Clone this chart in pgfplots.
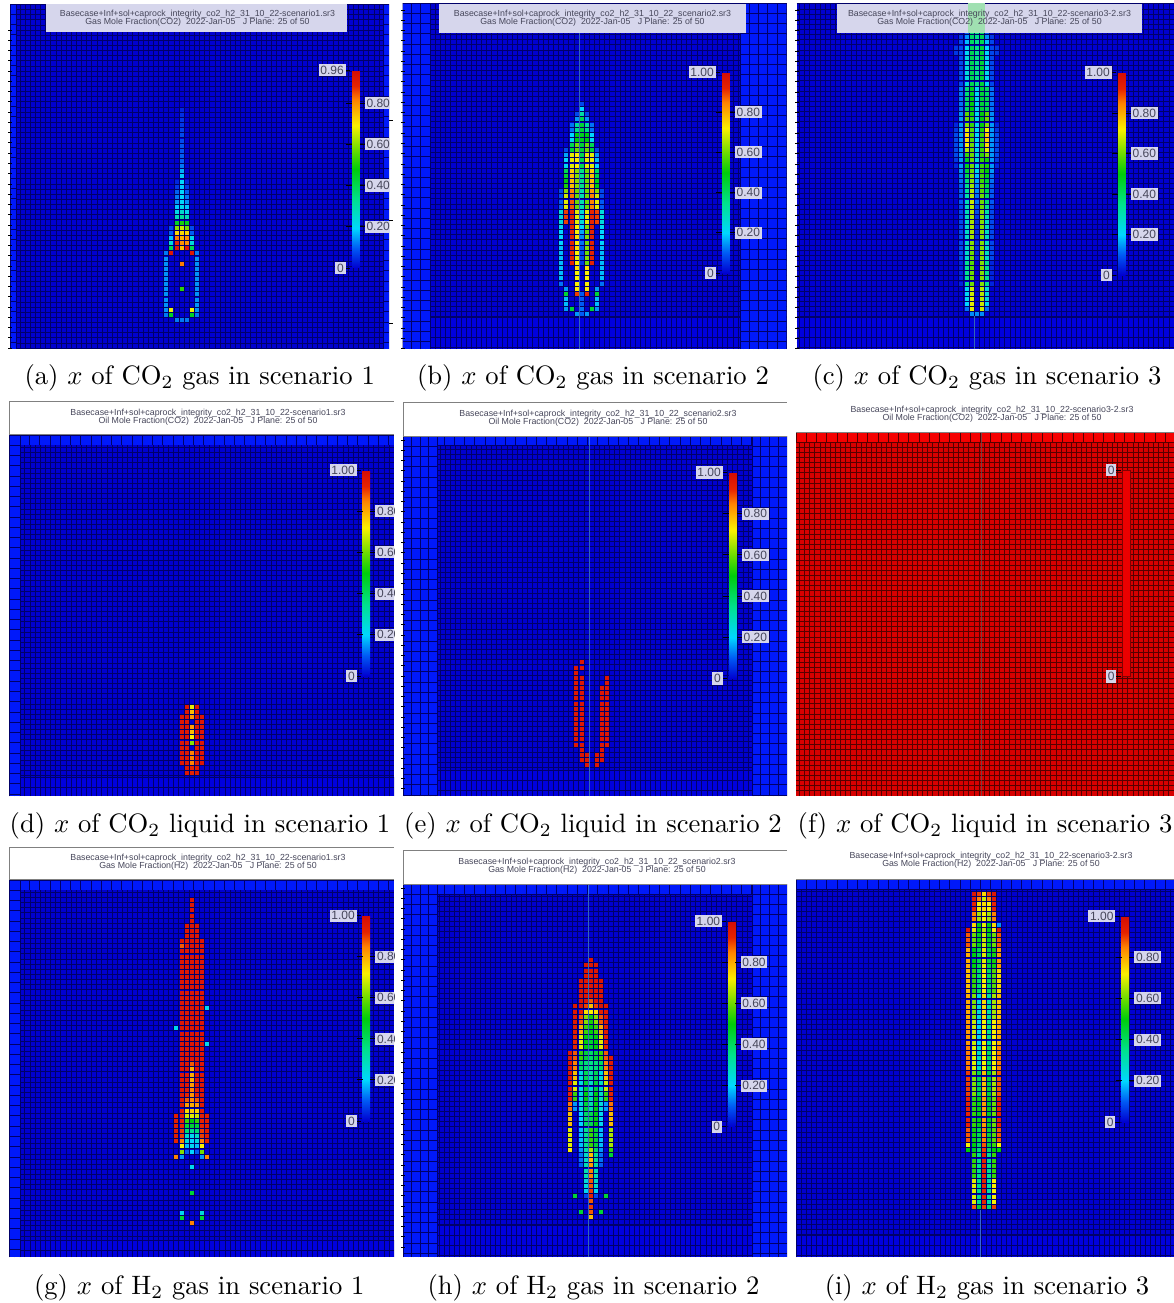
\documentclass[border=0pt]{standalone}
\usepackage{pgfplots}
\usepackage{pgfplotstable}
\usepackage{fontspec}
\pgfplotsset{compat=1.18}
\newfontfamily\simfont{Liberation Sans}
\definecolor{cellblue}{RGB}{0,0,208}
\definecolor{gridblue}{RGB}{0,0,105}
\definecolor{bandblue}{RGB}{0,25,250}
\definecolor{bandmid}{RGB}{0,0,222}
\definecolor{cellred}{RGB}{215,0,0}
\definecolor{gridred}{RGB}{85,0,0}
\definecolor{bandred}{RGB}{245,0,0}
\definecolor{lav}{RGB}{214,214,236}
\definecolor{labtxt}{RGB}{70,70,90}
\definecolor{midline}{RGB}{90,170,230}
\pgfplotsset{colormap={sim}{rgb255(0pt)=(0,0,208) rgb255(10pt)=(0,90,245) rgb255(20pt)=(0,215,255) rgb255(35pt)=(0,225,140) rgb255(50pt)=(0,205,10) rgb255(60pt)=(110,220,0) rgb255(72pt)=(250,240,0) rgb255(85pt)=(255,130,0) rgb255(92pt)=(230,35,0) rgb255(100pt)=(212,12,5)}}

\pgfplotstableread{
j m3 m2 m1 z p1 p2 p3
0 0 0 12 12 12 0 0
1 12 45 0 0 0 45 12
2 14 68 0 0 0 68 14
3 14 0 0 0 0 0 14
4 14 0 0 0 0 0 14
5 14 0 0 0 0 0 14
6 14 0 0 52 0 0 14
7 14 0 0 0 0 0 14
8 14 0 0 0 0 0 14
9 14 0 0 0 0 0 14
10 14 0 0 0 0 0 14
11 14 0 0 82 0 0 14
12 14 0 0 0 0 0 14
13 12 92 0 0 0 92 12
14 0 40 92 75 92 40 0
15 0 24 88 80 80 24 0
16 0 18 82 76 80 22 0
17 0 10 72 72 72 10 0
18 0 8 60 65 58 8 0
19 0 0 45 50 46 0 0
20 0 0 28 32 28 0 0
21 0 0 22 26 22 0 0
22 0 0 18 22 18 0 0
23 0 0 14 20 14 0 0
24 0 0 12 20 12 0 0
25 0 0 10 20 10 0 0
26 0 0 6 18 6 0 0
27 0 0 4 20 4 0 0
28 0 0 0 18 0 0 0
29 0 0 0 16 0 0 0
30 0 0 0 12 0 0 0
31 0 0 0 10 0 0 0
32 0 0 0 10 0 0 0
33 0 0 0 9 0 0 0
34 0 0 0 9 0 0 0
35 0 0 0 8 0 0 0
36 0 0 0 8 0 0 0
37 0 0 0 7 0 0 0
38 0 0 0 6 0 0 0
39 0 0 0 6 0 0 0
40 0 0 0 5 0 0 0
41 0 0 0 4 0 0 0
}\Ta
\pgfplotstableread{
j m4 m3 m2 m1 z p1 p2 p3 p4
0 0 0 0 15 10 15 0 0 0
1 0 15 45 0 12 0 45 15 0
2 0 18 0 0 10 0 0 18 0
3 0 18 0 0 10 0 0 18 0
4 0 45 0 90 10 92 0 45 0
5 0 15 0 72 0 72 0 15 0
6 12 0 0 72 0 72 0 0 12
7 18 0 0 72 0 72 0 0 18
8 18 0 0 72 0 72 0 0 18
9 18 0 0 74 0 74 0 0 18
10 18 0 92 72 6 60 92 0 18
11 18 0 92 70 8 62 92 0 18
12 18 0 92 72 8 60 92 0 18
13 18 0 92 74 10 62 92 0 18
14 20 0 92 72 12 60 92 0 20
15 20 0 92 74 14 62 92 0 20
16 20 0 92 72 16 60 92 0 20
17 22 0 92 72 20 62 92 0 22
18 25 90 92 70 25 70 92 90 25
19 25 90 92 70 25 70 92 90 25
20 25 90 92 70 25 70 92 90 25
21 10 70 88 60 30 60 85 70 10
22 10 70 88 60 30 60 85 70 10
23 8 68 86 60 30 60 85 68 8
24 8 62 84 60 30 60 82 62 8
25 0 52 78 62 35 60 78 50 0
26 0 50 78 62 35 60 78 48 0
27 0 46 78 62 35 60 78 44 0
28 0 42 76 62 35 60 76 40 0
29 0 22 70 72 42 70 70 20 0
30 0 20 70 72 42 70 70 18 0
31 0 16 70 72 42 70 70 15 0
32 0 8 45 60 45 60 45 8 0
33 0 0 42 60 45 60 42 0 0
34 0 0 22 50 48 50 22 0 0
35 0 0 20 50 48 50 20 0 0
36 0 0 12 36 45 36 12 0 0
37 0 0 12 34 45 34 12 0 0
38 0 0 0 15 42 15 0 0 0
39 0 0 0 8 32 8 0 0 0
40 0 0 0 0 20 0 0 0 0
41 0 0 0 0 8 0 0 0 0
}\Tb
\pgfplotstableread{
j m4 m3 m2 m1 z p1 p2 p3 p4
0 0 0 0 14 14 14 0 0 0
1 0 0 12 70 0 68 12 0 0
2 0 0 20 70 0 68 22 0 0
3 0 0 22 70 0 66 25 0 0
4 0 0 22 68 0 66 25 0 0
5 0 0 22 68 0 66 25 0 0
6 0 4 35 60 0 62 35 4 0
7 0 4 35 60 0 62 35 4 0
8 0 4 35 60 0 62 35 4 0
9 0 4 35 58 0 62 35 4 0
10 0 4 35 58 0 62 35 4 0
11 0 8 28 60 4 62 28 8 0
12 0 8 28 60 4 62 28 8 0
13 0 8 28 62 5 62 28 8 0
14 0 8 28 62 5 62 28 8 0
15 0 8 28 64 5 62 28 8 0
16 0 8 28 65 5 62 28 8 0
17 0 8 28 65 5 62 28 8 0
18 0 8 28 65 5 62 28 8 0
19 0 8 30 65 6 62 30 8 0
20 0 8 30 66 8 62 32 8 0
21 0 8 30 66 8 60 34 8 0
22 0 10 30 68 12 60 38 10 0
23 0 10 32 66 12 60 40 10 0
24 0 10 34 66 14 58 42 10 0
25 0 10 36 64 14 58 44 10 0
26 0 12 38 62 16 56 45 12 0
27 0 12 42 62 18 56 48 12 0
28 0 14 45 60 22 55 50 15 0
29 4 15 48 60 25 55 52 15 4
30 6 15 48 60 25 55 52 15 6
31 8 15 55 60 25 55 62 15 8
32 8 15 66 60 22 55 70 15 8
33 8 15 72 60 20 55 75 15 8
34 8 15 74 58 20 55 76 15 8
35 8 15 74 58 20 55 76 15 8
36 6 15 70 58 20 52 72 15 6
37 4 15 62 55 22 50 62 15 4
38 0 15 60 55 22 50 60 15 0
39 0 14 58 52 22 50 58 14 0
40 0 12 40 50 22 45 42 12 0
41 0 12 40 50 22 45 42 12 0
42 0 12 40 50 22 45 42 12 0
43 0 12 38 48 22 45 40 12 0
44 0 12 38 48 22 45 40 12 0
45 0 8 25 42 35 45 22 8 0
46 0 8 25 42 35 45 22 8 0
47 0 8 25 42 35 45 22 8 0
48 0 8 25 42 35 45 22 8 0
49 0 8 25 42 35 45 22 8 0
50 0 8 25 42 35 45 22 8 0
51 6 8 22 42 35 45 20 8 6
52 6 8 22 42 35 45 20 8 6
53 0 8 18 40 35 42 18 8 0
54 0 6 15 40 35 42 15 6 0
55 0 0 10 38 35 40 10 0 0
}\Tc
\pgfplotstableread{
j m2 m1 z p1 p2
0 0 96 92 96 0
1 0 96 92 96 0
2 96 96 85 96 96
3 96 96 85 96 96
4 96 96 85 96 96
5 96 96 0 96 96
6 96 96 62 96 96
7 96 96 72 96 96
8 96 96 78 96 96
9 96 96 82 96 96
10 96 96 0 96 96
11 96 96 82 96 96
12 0 96 78 96 0
13 0 96 70 96 0
}\Td
\pgfplotstableread{
j m3 m2 m1 z p1 p2 p3
0 0 0 96 0 96 0 0
1 0 96 96 0 96 96 0
2 0 96 96 0 96 96 0
3 0 96 0 0 0 96 0
4 96 96 0 0 0 96 96
5 96 96 0 0 0 96 96
6 96 96 0 0 0 96 96
7 96 96 0 0 0 96 96
8 96 96 0 0 0 96 96
9 96 96 0 0 0 96 96
10 96 96 0 0 0 96 96
11 96 96 0 0 0 96 96
12 96 96 0 0 0 96 96
13 96 96 0 0 0 96 96
14 96 96 0 0 0 96 96
15 96 96 0 0 0 96 96
16 96 96 0 0 0 0 96
17 96 96 0 0 0 0 96
18 96 0 0 0 0 0 0
19 96 96 0 0 0 0 0
20 0 96 0 0 0 0 0
}\Te
\pgfplotstableread{
j m3 m2 m1 z p1 p2 p3
0 0 0 0 85 0 0 0
1 0 45 0 0 0 45 0
2 0 22 0 0 0 25 0
6 0 0 0 45 0 0 0
11 0 0 0 22 0 0 0
13 85 15 0 0 0 15 85
14 0 62 10 20 10 60 0
15 0 72 18 22 18 72 0
16 92 85 25 20 25 85 92
17 94 90 28 22 28 90 94
18 94 90 38 35 38 90 94
19 94 92 45 45 45 92 94
20 94 92 55 50 55 92 94
21 94 93 68 70 68 93 94
22 0 94 75 76 75 94 0
23 0 95 82 80 82 95 0
24 0 95 88 84 88 95 0
25 0 95 92 83 92 95 0
26 0 96 94 85 94 96 0
27 0 96 96 82 96 96 0
28 0 96 96 80 96 96 0
29 0 96 96 80 96 96 0
30 0 96 96 80 96 96 0
31 0 96 96 88 96 96 0
32 0 96 96 96 96 96 0
33 0 96 96 96 96 96 0
34 0 96 96 96 96 96 0
35 0 96 96 96 96 96 22
36 0 96 96 96 96 96 0
37 0 96 96 96 96 96 0
38 22 96 96 96 96 96 0
39 0 96 96 96 96 96 0
40 0 96 96 96 96 96 0
41 0 96 96 96 96 96 0
42 0 96 96 96 96 96 22
43 0 96 96 96 96 96 0
44 0 96 96 96 96 96 0
45 0 96 96 96 96 96 0
46 0 96 96 96 96 96 0
47 0 96 96 96 96 96 0
48 0 96 96 96 96 96 0
49 0 96 96 96 96 96 0
50 0 96 96 96 96 96 0
51 0 96 96 96 96 96 0
52 0 96 96 96 96 96 0
53 0 96 96 96 96 96 0
54 0 88 96 96 96 96 0
55 0 96 96 96 96 96 0
56 0 0 96 96 96 0 0
57 0 0 96 96 96 0 0
58 0 0 96 96 96 0 0
59 0 0 0 96 0 0 0
60 0 0 0 96 0 0 0
61 0 0 0 96 0 0 0
62 0 0 0 96 0 0 0
63 0 0 0 96 0 0 0
}\Tg
\pgfplotstableread{
j m4 m3 m2 m1 z p1 p2 p3 p4
0 0 0 0 0 78 0 0 0 0
1 0 0 45 0 88 0 45 0 0
2 0 0 0 0 90 0 0 0 0
3 0 0 0 0 88 0 0 0 0
4 0 45 0 8 92 8 0 45 0
5 0 0 0 22 90 22 0 0 0
6 0 0 0 25 88 28 0 0 0
7 0 0 0 25 88 28 0 0 0
8 0 0 0 30 85 30 0 0 0
9 0 0 0 30 85 30 0 0 0
10 0 0 10 30 82 32 10 0 0
11 0 0 12 28 78 35 12 0 0
12 0 0 12 28 78 35 12 0 45
13 72 0 15 32 65 40 15 0 55
14 70 0 18 35 55 45 18 0 65
15 70 0 18 35 55 45 18 0 65
16 70 0 18 35 55 45 18 0 65
17 70 0 18 35 55 45 18 0 65
18 78 0 20 40 42 50 22 0 78
19 78 0 20 40 42 50 22 0 78
20 78 0 20 40 42 50 22 0 78
21 86 15 25 45 32 50 25 15 86
22 86 15 25 45 32 50 25 15 86
23 92 55 25 50 30 50 28 55 92
24 92 55 25 50 30 50 28 55 92
25 94 70 24 45 28 45 28 68 94
26 94 70 24 45 28 45 28 68 94
27 95 78 25 42 32 42 25 78 95
28 95 78 25 42 32 42 25 78 95
29 95 85 40 38 36 38 40 85 95
30 95 85 40 38 36 38 40 85 95
31 95 88 55 45 40 45 55 88 95
32 95 88 55 45 40 45 55 88 0
33 0 92 70 50 46 50 70 92 0
34 0 92 70 50 46 50 70 92 0
35 0 92 70 50 46 50 70 92 0
36 0 94 80 55 50 55 80 94 0
37 0 94 80 55 50 55 80 94 0
38 0 95 88 62 52 62 88 95 0
39 0 95 88 62 52 62 88 95 0
40 0 96 93 74 72 74 93 96 0
41 0 96 96 90 78 90 96 96 0
42 0 0 96 96 88 96 96 0 0
43 0 0 96 96 96 96 96 0 0
44 0 0 96 96 96 96 96 0 0
45 0 0 96 96 96 96 96 0 0
46 0 0 96 96 96 96 96 0 0
47 0 0 0 96 96 96 0 0 0
48 0 0 0 96 96 96 0 0 0
49 0 0 0 96 96 96 0 0 0
50 0 0 0 0 96 0 0 0 0
}\Th
\pgfplotstableread{
j m3 m2 m1 z p1 p2 p3
0 0 88 45 90 38 90 0
1 0 70 35 92 32 72 0
2 0 70 35 92 32 72 0
3 0 70 35 92 32 72 0
4 0 70 35 92 32 72 0
5 0 70 35 92 32 72 0
6 0 55 35 92 35 55 0
7 0 55 35 92 35 55 0
8 0 55 35 92 35 55 0
9 0 55 35 92 35 55 0
10 0 55 35 92 35 55 0
11 50 48 38 90 40 50 50
12 72 50 40 88 45 55 72
13 88 52 42 85 45 58 88
14 88 52 42 85 45 58 88
15 88 52 42 85 45 58 88
16 92 55 48 82 48 60 92
17 92 55 48 82 48 60 92
18 92 55 48 82 48 60 92
19 92 55 48 82 48 60 92
20 92 55 48 82 48 60 92
21 92 55 48 82 48 60 92
22 90 62 42 78 45 65 88
23 90 62 42 78 45 65 88
24 90 62 42 78 45 65 88
25 90 62 42 78 45 65 88
26 90 62 42 78 45 65 88
27 85 70 28 72 40 72 85
28 85 70 28 72 40 72 85
29 85 70 28 72 40 72 85
30 85 70 28 72 40 72 85
31 85 70 28 72 40 72 85
32 82 68 22 72 35 72 80
33 82 68 22 72 35 72 80
34 82 68 22 72 35 72 80
35 82 68 22 72 35 72 80
36 82 68 22 72 35 72 80
37 80 62 25 75 32 65 78
38 80 62 25 75 32 65 78
39 80 62 25 75 32 65 78
40 80 62 25 75 32 65 78
41 80 62 25 75 32 65 78
42 78 55 38 72 40 58 75
43 78 55 38 72 40 58 75
44 78 55 38 72 40 58 75
45 78 55 38 72 40 58 75
46 78 55 38 72 40 58 75
47 80 50 42 70 44 52 82
48 80 50 42 70 44 52 82
49 80 50 42 70 44 52 82
50 80 50 42 70 44 52 82
51 88 60 48 68 48 60 88
52 88 60 48 68 48 60 88
53 88 60 48 68 48 60 88
54 95 70 50 66 50 72 95
55 0 75 50 70 50 75 15
56 0 85 65 72 65 85 0
57 0 85 65 72 65 85 0
58 0 92 72 75 72 92 0
59 0 92 72 75 72 92 0
60 0 95 85 68 85 95 0
61 0 96 90 75 90 96 0
}\Ti

\def\PP{5.13}
\newcommand\setpanel[6]{%
 \pgfmathsetmacro\Xa{(#1-#5)/\PP}\pgfmathsetmacro\Xb{(#3-#5)/\PP}%
 \pgfmathsetmacro\Ya{(#6-#4)/\PP}\pgfmathsetmacro\Yb{(#6-#2)/\PP}%
 \pgfmathsetmacro\Wd{(#3-#1)*0.5}\pgfmathsetmacro\Ht{(#4-#2)*0.5}%
 \pgfmathsetmacro\Ax{#1*0.5}\pgfmathsetmacro\Ay{-#2*0.5}%
 \def\Xz{#1}\def\Yz{#2}\def\XC{#5}\def\YJ{#6}%
 % grid lines fall on whole picture pixels, so that they all look alike
 \gdef\XT{-1000}\gdef\YT{-1000}%
 \foreach \k in {-50,...,50}{\pgfmathsetmacro\v{(floor(#5+(\k+0.5)*\PP)+0.5-#5)/\PP}\xdef\XT{\XT,\v}}%
 \foreach \k in {-20,...,95}{\pgfmathsetmacro\v{(#6-floor(#6-(\k+0.5)*\PP)-0.5)/\PP}\xdef\YT{\YT,\v}}%
}
\pgfplotsset{
 std/.style={at={(\Ax pt,\Ay pt)},anchor=north west,scale only axis,width=\Wd pt,height=\Ht pt,
  xmin=\Xa,xmax=\Xb,ymin=\Ya,ymax=\Yb,
  xtick=\XT,ytick=\YT,
  xticklabel=\empty,yticklabel=\empty,tick style={draw=none},
  grid=major,major grid style={draw=gridblue,line width=0.5pt},
  axis line style={draw=none},
  axis background/.style={fill=cellblue},
  colormap name=sim,point meta min=0,point meta max=1},
 cell/.style={scatter,only marks,scatter src=explicit,mark=square*,mark size=1pt,
  scatter/use mapped color={draw opacity=0,fill=mapped color},forget plot}
}
\newcommand\cells[3]{\pgfplotsinvokeforeach{1,...,#2}{\addplot[cell] table[
  x expr={(0.5*(floor(\XC+(##1-#3-0.5)*\PP)+floor(\XC+(##1-#3+0.5)*\PP))+0.5-\XC)/\PP},
  y expr={(\YJ-0.5*(floor(\YJ-(\thisrowno{0}-0.5)*\PP)+floor(\YJ-(\thisrowno{0}+0.5)*\PP))-0.5)/\PP},
  meta expr=\thisrowno{##1}/100]{#1};}}
% band of coarser cells, given in picture pixels: xa xb ya yb stepx stepy fill gridcolour
\newcommand\band[8]{\pgfplotsextra{%
 \pgfmathsetmacro\ba{(#1-\XC)/\PP}\pgfmathsetmacro\bb{(#2-\XC)/\PP}%
 \pgfmathsetmacro\bc{(\YJ-#4)/\PP}\pgfmathsetmacro\bd{(\YJ-#3)/\PP}%
 \fill[#7] (axis cs:\ba,\bc) rectangle (axis cs:\bb,\bd);
 \pgfmathtruncatemacro\nx{(#2-#1)/#5}\pgfmathtruncatemacro\ny{(#4-#3)/#6}%
 \foreach \k in {0,...,\nx}{\pgfmathsetmacro\v{(floor(#1+\k*#5)+0.5-\XC)/\PP}\draw[#8,line width=0.5pt] (axis cs:\v,\bc)--(axis cs:\v,\bd);}
 \foreach \k in {0,...,\ny}{\pgfmathsetmacro\v{(\YJ-floor(#3+\k*#6)-0.5)/\PP}\draw[#8,line width=0.5pt] (axis cs:\ba,\v)--(axis cs:\bb,\v);}
}}
% strip along the bottom: fine columns (the panel's own grid lines), rows twice as tall
\newcommand\bandm[4]{\pgfplotsextra{%
 \pgfmathsetmacro\ba{(#1-\XC)/\PP}\pgfmathsetmacro\bb{(#2-\XC)/\PP}%
 \pgfmathsetmacro\bc{(\YJ-#4)/\PP}\pgfmathsetmacro\bd{(\YJ-#3)/\PP}%
 \fill[bandmid] (axis cs:\ba,\bc) rectangle (axis cs:\bb,\bd);
 \pgfmathtruncatemacro\ny{(#4-#3)/10.26}%
 \foreach \v in \XT {\draw[gridblue,line width=0.5pt] (axis cs:\v,\bc)--(axis cs:\v,\bd);}
 \foreach \k in {0,...,\ny}{\pgfmathsetmacro\v{(\YJ-floor(#3+\k*10.26)-0.5)/\PP}\draw[gridblue,line width=0.5pt] (axis cs:\ba,\v)--(axis cs:\bb,\v);}
}}
% colour bar: px left, top, right, bottom (relative to the panel set last); 8.5pt undoes the colorbar's default shift
\newcommand\setcb[4]{%
 \pgfmathsetmacro\Cx{(#1-\Xz)*0.5-8.5359}\pgfmathsetmacro\Cy{-(#2-\Yz)*0.5}%
 \pgfmathsetmacro\Cw{(#3-#1)*0.5}\pgfmathsetmacro\Ch{(#4-#2)*0.5}%
 \pgfplotsset{cb/.style={colorbar,colorbar style={at={(parent axis.north west)},anchor=north west,
  xshift=\Cx pt,yshift=\Cy pt,width=\Cw pt,height=\Ch pt,
  ytick={0.2,0.4,0.6,0.8},yticklabels={0.20,0.40,0.60,0.80},
  tick align=outside,major tick length=3pt,tick style={draw=black,line width=0.5pt},
  axis line style={draw=none},
  yticklabel style={font=\simfont\fontsize{6}{6}\selectfont,text=labtxt,fill=lav,inner sep=0.9pt,xshift=-0.6pt}}}}}
\tikzset{hd/.style={font=\simfont\fontsize{4.4}{4.2}\selectfont,text=labtxt,align=center,inner sep=0pt},
 lab/.style={font=\simfont\fontsize{6}{6}\selectfont,text=labtxt,fill=lav,inner sep=0.9pt,anchor=east},
 capt/.style={scale=1.33,inner sep=0pt},
 mid/.style={midline,line width=0.5pt,opacity=0.6}}
\newcommand\leftlab[3]{\draw[black,line width=0.5pt] (#1-5,#2)--(#1,#2);\node[lab] at (#1-4,#2) {#3};}
\newcommand\edgeticks[3]{\foreach \k in {0,...,40}{\pgfmathsetmacro\v{#2+\k*10.26}\ifdim\v pt<#3pt\relax\draw[black,line width=0.4pt] (#1-2,\v)--(#1+1.5,\v);\fi}}

\begin{document}
\begin{tikzpicture}[x=0.5pt,y=-0.5pt]
\useasboundingbox (0,0) rectangle (1174,1303);
% (a)
\begin{scope}
\clip (10,4) rectangle (389,349);
\setpanel{10}{4}{389}{349}{181.7}{320}
\setcb{352}{70}{359.5}{268}
\begin{axis}[std,cb,point meta max=0.96]
\band{10}{16}{4}{349}{6}{10.26}{bandblue}{gridblue}
\band{383}{389}{4}{349}{6}{10.26}{bandblue}{gridblue}
\cells{\Ta}{7}{4}
\end{axis}
\fill[lav] (46,4) rectangle (347,32);
\node[hd] at (197.5,18) {Basecase+Inf+sol+caprock\_integrity\_co2\_h2\_31\_10\_22-scenario1.sr3\\Gas Mole Fraction(CO2) \ 2022-Jan-05 \ \ J Plane: 25 of 50};
\leftlab{350}{70}{0.96}
\leftlab{350}{268}{0}
\end{scope}
% (b)
\begin{scope}
\clip (402.7,3) rectangle (786.7,349);
\setpanel{402.7}{3}{786.7}{349}{581.7}{314.3}
\setcb{722.3}{72}{729.7}{273}
\begin{axis}[std,cb]
\bandm{402.7}{786.7}{317}{349}
\band{402.7}{430}{3}{349}{9.1}{10.26}{bandblue}{gridblue}
\band{740}{786.7}{3}{349}{9.3}{10.26}{bandblue}{gridblue}
\cells{\Tb}{9}{5}
\end{axis}
\draw[mid] (579,33)--(579,349);
\fill[lav] (439,4) rectangle (746,33);
\node[hd] at (592.5,18) {Basecase+Inf+sol+caprock\_integrity\_co2\_h2\_31\_10\_22\_scenario2.sr3\\Gas Mole Fraction(CO2) \ 2022-Jan-05 \ \ J Plane: 25 of 50};
\leftlab{720}{72}{1.00}
\leftlab{720}{273}{0}
\end{scope}
% (c)
\begin{scope}
\clip (796.7,3) rectangle (1174,349);
\setpanel{796.7}{3}{1174}{349}{976.7}{314.3}
\setcb{1118}{72.5}{1125.7}{275}
\begin{axis}[std,cb]
\bandm{796.7}{1174}{317}{349}
\cells{\Tc}{9}{5}
\end{axis}
\draw[mid] (974,316)--(974,349);
\fill[lav] (837,4) rectangle (1142,33);
\fill[green!25!lav] (968,3) rectangle (985,33);
\node[hd] at (989.5,18) {Basecase+Inf+sol+caprock\_integrity\_co2\_h2\_31\_10\_22-scenario3-2.sr3\\Gas Mole Fraction(CO2) \ 2022-Jan-05 \ \ J Plane: 25 of 50};
\leftlab{1116}{72.5}{1.00}
\leftlab{1116}{275}{0}
\end{scope}
% (d)
\begin{scope}
\clip (9,401) rectangle (394,796);
\setpanel{9}{401}{394}{796}{191.7}{773.3}
\setcb{362.7}{470}{370}{676}
\begin{axis}[std,cb]
\bandm{9}{394}{777}{796}
\band{9}{394}{435}{445}{10.26}{10.26}{bandblue}{gridblue}
\band{9}{20}{435}{796}{11}{10.26}{bandblue}{gridblue}
\cells{\Td}{5}{3}
\end{axis}
\fill[white] (9,401) rectangle (394,434.5);
\draw[gray,line width=0.4pt] (9,434.5)--(9,401.5)--(394,401.5);
\draw[gray,line width=0.4pt] (9,434.5)--(394,434.5);
\node[hd] at (208,417) {Basecase+Inf+sol+caprock\_integrity\_co2\_h2\_31\_10\_22-scenario1.sr3\\Oil Mole Fraction(CO2) \ 2022-Jan-05 \ \ J Plane: 25 of 50};
\leftlab{361}{470}{1.00}
\leftlab{361}{676}{0}
\end{scope}
% (e)
\begin{scope}
\clip (403,402) rectangle (787,796);
\setpanel{403}{402}{787}{796}{591.7}{765}
\setcb{729}{472.5}{736.7}{678.5}
\begin{axis}[std,cb]
\bandm{403}{787}{770}{796}
\band{403}{787}{436}{445}{10.26}{9}{bandblue}{gridblue}
\band{403}{437}{436}{796}{8.5}{10.26}{bandblue}{gridblue}
\band{752}{787}{436}{796}{8.75}{10.26}{bandblue}{gridblue}
\cells{\Te}{7}{4}
\end{axis}
\draw[mid] (589,436)--(589,796);
\fill[white] (403,402) rectangle (787,436);
\draw[gray,line width=0.4pt] (403,436)--(403,402.5)--(787,402.5);
\draw[gray,line width=0.4pt] (403,436)--(787,436);
\node[hd] at (598,418) {Basecase+Inf+sol+caprock\_integrity\_co2\_h2\_31\_10\_22\_scenario2.sr3\\Oil Mole Fraction(CO2) \ 2022-Jan-05 \ \ J Plane: 25 of 50};
\leftlab{727}{472.5}{1.00}
\leftlab{727}{678.5}{0}
\end{scope}
% (f)
\begin{scope}
\clip (796,400) rectangle (1174,796);
\setpanel{796}{400}{1174}{796}{981.7}{773}
\begin{axis}[std,major grid style={draw=gridred,line width=0.5pt},axis background/.style={fill=cellred}]
\addplot[draw=none,forget plot] coordinates {(0,0)};
\band{796}{1174}{432}{442}{10.26}{10}{bandred}{gridred}
\end{axis}
\draw[gray!70!black,line width=0.4pt,opacity=0.7] (981.7,432)--(981.7,796);
\fill[white] (796,400) rectangle (1174,432);
\draw[gray,line width=0.4pt] (796,432)--(1174,432);
\node[hd] at (992,414) {Basecase+Inf+sol+caprock\_integrity\_co2\_h2\_31\_10\_22-scenario3-2.sr3\\Oil Mole Fraction(CO2) \ 2022-Jan-05 \ \ J Plane: 25 of 50};
\fill[red!92!black,draw=red!50!black,line width=0.3pt] (1122.7,470) rectangle (1130,676.5);
\leftlab{1120.7}{470}{0}
\leftlab{1120.7}{676.5}{0}
\end{scope}
% (g)
\begin{scope}
\clip (9,847) rectangle (394,1257);
\setpanel{9}{847}{394}{1257}{191.7}{1223.3}
\setcb{362.7}{915.7}{370}{1121}
\begin{axis}[std,cb]
\bandm{9}{394}{1240}{1257}
\band{9}{394}{880}{890}{10.26}{10.26}{bandblue}{gridblue}
\band{9}{20}{880}{1257}{11}{10.26}{bandblue}{gridblue}
\cells{\Tg}{7}{4}
\end{axis}
\fill[white] (9,847) rectangle (394,879.5);
\draw[gray,line width=0.4pt] (9,879.5)--(9,847.5)--(394,847.5);
\draw[gray,line width=0.4pt] (9,879.5)--(394,879.5);
\node[hd] at (208,862) {Basecase+Inf+sol+caprock\_integrity\_co2\_h2\_31\_10\_22-scenario1.sr3\\Gas Mole Fraction(H2) \ 2022-Jan-05 \ \ J Plane: 25 of 50};
\leftlab{361}{915.7}{1.00}
\leftlab{361}{1121}{0}
\end{scope}
% (h)
\begin{scope}
\clip (403,850) rectangle (787,1257);
\setpanel{403}{850}{787}{1257}{590.7}{1216.7}
\setcb{728.3}{921}{735.3}{1126.7}
\begin{axis}[std,cb]
\bandm{403}{787}{1225}{1257}
\band{403}{787}{884}{894}{10.26}{10}{bandblue}{gridblue}
\band{403}{437}{884}{1257}{8.5}{10.26}{bandblue}{gridblue}
\band{752}{787}{884}{1257}{8.75}{10.26}{bandblue}{gridblue}
\cells{\Th}{9}{5}
\end{axis}
\draw[mid] (588.3,884)--(588.3,1257);
\fill[white] (403,850) rectangle (787,884);
\draw[gray,line width=0.4pt] (403,884)--(403,850.5)--(787,850.5);
\draw[gray,line width=0.4pt] (403,884)--(787,884);
\node[hd] at (597,866) {Basecase+Inf+sol+caprock\_integrity\_co2\_h2\_31\_10\_22\_scenario2.sr3\\Gas Mole Fraction(H2) \ 2022-Jan-05 \ \ J Plane: 25 of 50};
\leftlab{726.3}{921}{1.00}
\leftlab{726.3}{1126.7}{0}
\end{scope}
% (i)
\begin{scope}
\clip (796,846) rectangle (1174,1257);
\setpanel{796}{846}{1174}{1257}{983.7}{1206.7}
\setcb{1121.7}{916}{1129}{1122}
\begin{axis}[std,cb]
\bandm{796}{1174}{1235}{1257}
\band{796}{1174}{879}{889}{10.26}{10}{bandblue}{gridblue}
\cells{\Ti}{7}{4}
\end{axis}
\draw[mid] (980.7,1210)--(980.7,1257);
\fill[white] (796,846) rectangle (1174,879);
\draw[gray,line width=0.4pt] (796,879)--(1174,879);
\node[hd] at (991,860.5) {Basecase+Inf+sol+caprock\_integrity\_co2\_h2\_31\_10\_22-scenario3-2.sr3\\Gas Mole Fraction(H2) \ 2022-Jan-05 \ \ J Plane: 25 of 50};
\leftlab{1119.7}{916}{1.00}
\leftlab{1119.7}{1122}{0}
\end{scope}
% short ticks on the panels' left edges
\edgeticks{10}{30}{349}
\edgeticks{403}{10}{349}
\edgeticks{797}{10}{349}
\edgeticks{403}{440}{796}
\edgeticks{403}{888}{1257}
\foreach \v in {120,220,323}{\draw[black,line width=0.4pt] (389,\v)--(393,\v);}
% captions
\node[capt] at (199.7,378) {(a) $x$ of CO$_2$ gas in scenario 1};
\node[capt] at (593,378) {(b) $x$ of CO$_2$ gas in scenario 2};
\node[capt] at (987,378) {(c) $x$ of CO$_2$ gas in scenario 3};
\node[capt] at (200,826) {(d) $x$ of CO$_2$ liquid in scenario 1};
\node[capt] at (593,826) {(e) $x$ of CO$_2$ liquid in scenario 2};
\node[capt] at (985,826) {(f) $x$ of CO$_2$ liquid in scenario 3};
\node[capt] at (199.3,1288) {(g) $x$ of H$_2$ gas in scenario 1};
\node[capt] at (593.5,1288) {(h) $x$ of H$_2$ gas in scenario 2};
\node[capt] at (987,1288) {(i) $x$ of H$_2$ gas in scenario 3};
\end{tikzpicture}
\end{document}
